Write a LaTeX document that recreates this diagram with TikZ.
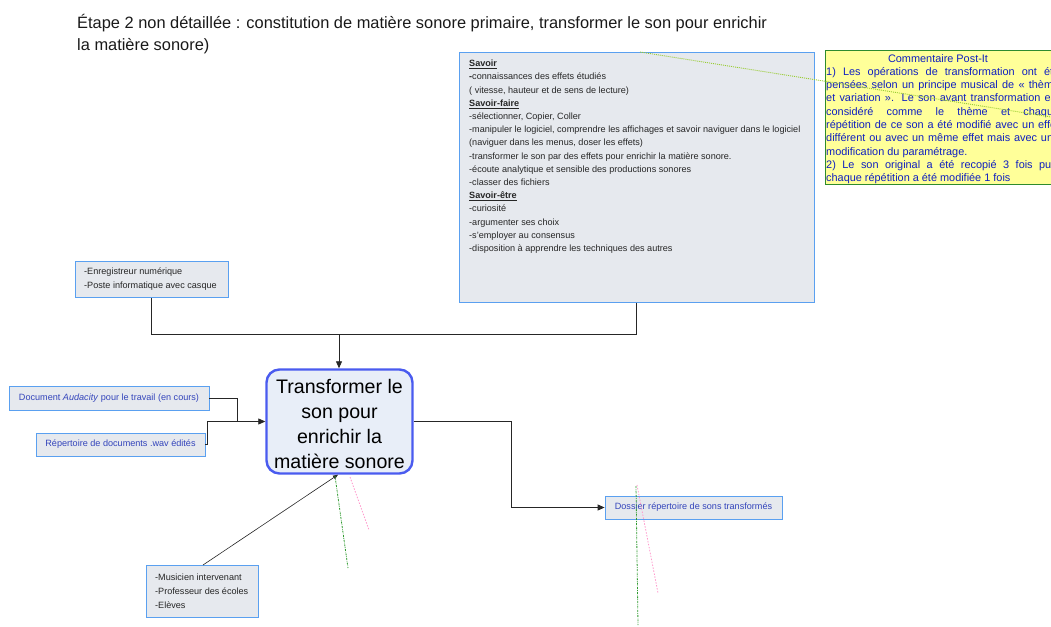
\documentclass[tikz,border=0pt]{standalone}
\usepackage{fontspec}
\setmainfont{Liberation Sans}
\usetikzlibrary{arrows.meta}
\definecolor{boxfill}{HTML}{E6E9EE}
\definecolor{boxline}{HTML}{5AA0F0}
\definecolor{mainfill}{HTML}{E8EEF8}
\definecolor{mainline}{HTML}{4A5BEF}
\definecolor{bluetxt}{HTML}{3344BB}
\definecolor{postfill}{HTML}{FFFF99}
\definecolor{postline}{HTML}{2E8B2E}
\definecolor{posttxt}{HTML}{1020C0}
\definecolor{greendot}{HTML}{2E9A2E}
\definecolor{pinkdot}{HTML}{FF99CC}
\definecolor{yelgreen}{HTML}{99CC33}
\tikzset{
  smallbox/.style={draw=boxline, line width=0.8pt, fill=boxfill, anchor=north west, inner sep=0pt},
  conn/.style={draw=black!85, line width=0.8pt},
  arr/.style={conn, -{Triangle[length=7pt,width=6pt]}},
  greenline/.style={draw=greendot, line width=0.8pt, dash pattern=on 2pt off 1pt on 0.6pt off 1pt},
  pinkline/.style={draw=pinkdot, line width=0.8pt, dash pattern=on 1.5pt off 1.5pt},
}
\begin{document}
\begin{tikzpicture}[x=1pt,y=-1pt]
\useasboundingbox (0,0) rectangle (1051,626);
% title
\node[anchor=north west, align=left, inner sep=0pt, font=\fontsize{16.4}{22}\selectfont, text=black!90]
  (title) at (77,14) {Étape 2 non détaillée : constitution de matière sonore primaire, transformer le son pour enrichir\\la matière sonore)};
% Savoir box
\node[smallbox, minimum width=355pt, minimum height=250pt] (savoir) at (459,52) {};
\node[anchor=north west, align=left, inner sep=0pt, font=\fontsize{9.1}{13.2}\selectfont, text=black!85] (savoirtxt) at (469,60)
{\underline{\textbf{Savoir}}\\
\textbf{-}connaissances des effets étudiés\\
( vitesse, hauteur et de sens de lecture)\\
\underline{\textbf{Savoir-faire}}\\
-sélectionner, Copier, Coller\\
-manipuler le logiciel, comprendre les affichages et savoir naviguer dans le logiciel\\
(naviguer dans les menus, doser les effets)\\
-transformer le son par des effets pour enrichir la matière sonore.\\
-écoute analytique et sensible des productions sonores\\
-classer des fichiers\\
\underline{\textbf{Savoir-être}}\\
-curiosité\\
-argumenter ses choix\\
-s'employer au consensus\\
-disposition à apprendre les techniques des autres};
% Post-it
\begin{scope}
\clip (0,0) rectangle (1051,626);
\node[draw=postline, line width=0.9pt, fill=postfill, anchor=north west, minimum width=250pt, minimum height=134pt, inner sep=0pt] (postit) at (825,50) {};
\node[anchor=north, inner sep=0pt, font=\fontsize{10.9}{13.2}\selectfont, text=posttxt] (posttitle) at (938,54) {Commentaire Post-It};
\node[anchor=north west, align=left, inner sep=0pt, font=\fontsize{10.9}{13.3}\selectfont, text=posttxt] (posttxt) at (826,67)
{\makebox[233pt][s]{1) Les opérations de transformation ont été}\\
\makebox[233pt][s]{pensées selon un principe musical de « thème}\\
\makebox[233pt][s]{et variation ». Le son avant transformation est}\\
\makebox[233pt][s]{considéré comme le thème et chaque}\\
\makebox[233pt][s]{répétition de ce son a été modifié avec un effet}\\
\makebox[233pt][s]{différent ou avec un même effet mais avec une}\\
modification du paramétrage.\\
\makebox[233pt][s]{2) Le son original a été recopié 3 fois puis}\\
chaque répétition a été modifiée 1 fois};
\coordinate (pfar) at (1051,117);
\coordinate (savtop) at (640,52);
\draw[draw=yelgreen, line width=0.9pt, dash pattern=on 1pt off 1pt] (savtop) -- (pfar);
\end{scope}
% Enregistreur
\node[smallbox, minimum width=153pt, minimum height=36pt] (enreg) at (75,261) {};
\node[anchor=west, align=left, inner sep=0pt, font=\fontsize{9.1}{14}\selectfont, text=black!85] at (84,279) {-Enregistreur numérique\\-Poste informatique avec casque};
% Main
\node[draw=mainline, line width=2.4pt, fill=mainfill, rounded corners=13pt, minimum width=146pt, minimum height=104pt, inner sep=0pt] (main) at (339.5,421.5) {};
\node[align=center, font=\fontsize{19.6}{25}\selectfont, inner sep=0pt] (maintxt) at (339.5,424)
{Transformer le\\son pour\\enrichir la\\matière sonore};
% Audacity
\node[smallbox, minimum width=200pt, minimum height=24pt, font=\fontsize{9.1}{10}\selectfont, text=bluetxt, anchor=center] (auda) at (109,398) {Document \textit{Audacity} pour le travail (en cours)};
\node[smallbox, minimum width=169pt, minimum height=23pt, font=\fontsize{9.1}{10}\selectfont, text=bluetxt, anchor=center] (rep) at (120.5,444.5) {Répertoire de documents .wav édités};
% Dossier
\node[smallbox, minimum width=177pt, minimum height=23pt, font=\fontsize{9.1}{10}\selectfont, text=bluetxt, anchor=center] (doss) at (693.5,507.5) {Dossier répertoire de sons transformés};
% Musicien
\node[smallbox, minimum width=112pt, minimum height=52pt] (musi) at (146,565) {};
\node[anchor=west, align=left, inner sep=0pt, font=\fontsize{9.1}{14}\selectfont, text=black!85] at (155,591) {-Musicien intervenant\\-Professeur des écoles\\-Elèves};
% connectors
\coordinate (join) at (339,334);
\draw[conn] (enreg.south -| 151,0) -- (151,334) -- (join);
\draw[conn] (savoir.south -| 636,0) -- (636,334) -- (join);
\draw[arr] (join) -- (main.north -| join);
\draw[conn] (auda.east) -- (237,398) -- (237,422);
\draw[conn] (rep.east) -- (207,444.5) -- (207,421) -- (237,421);
\draw[arr] (237,421.5) -- (main.west |- 0,421.5);
\draw[conn] (main.east) -- (511,421.5) -- (511,507.5);
\draw[arr] (511,507.5) -- (doss.west);
\draw[conn, line width=0.6pt, -{Triangle[length=5pt,width=4pt]}] (musi.north -| 203,0) -- (main.south -| 338,0);
% dotted marks
\draw[greenline] (335,476) -- (348,568);
\draw[pinkline] (350,477) -- (369,530);
\draw[greenline] (636,486) -- (638,625);
\draw[pinkline] (637,485) -- (658,593);
\end{tikzpicture}
\end{document}
